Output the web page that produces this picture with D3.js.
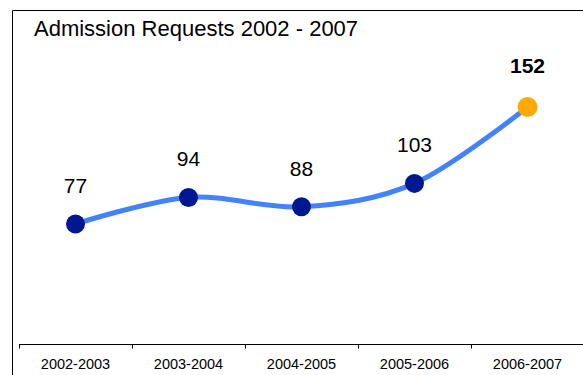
<!DOCTYPE html>
<html>
<head>
<meta charset="utf-8">
<script src="https://cdn.jsdelivr.net/npm/d3@7"></script>
<style>
  html, body { margin: 0; padding: 0; background: #fff; }
  svg { display: block; font-family: Arial, "Liberation Sans", sans-serif; }
</style>
</head>
<body>
<svg id="chart" width="583" height="375"></svg>
<script>
// Admission requests per academic year
const categories = ["2002-2003", "2003-2004", "2004-2005", "2005-2006", "2006-2007"];
const requests = [77, 94, 88, 103, 152];
const chartTitle = "Admission Requests 2002 - 2007";

const svg = d3.select("#chart");
const W = 583, H = 375;

// outer frame (right and bottom edges fall outside the view)
svg.append("path")
  .attr("d", "M12.5," + (H + 2) + "V10.5H" + (W + 2))
  .attr("fill", "none")
  .attr("stroke", "#000")
  .attr("stroke-width", 1);

svg.append("text")
  .attr("x", 34)
  .attr("y", 36)
  .attr("font-size", 22)
  .attr("fill", "#000")
  .text(chartTitle);

const x = d3.scaleBand().domain(categories).range([19, 584]).padding(0);
const y = d3.scaleLinear().domain([0, 160]).range([344, 94.5]);

// category axis with ticks between the categories
const axisY = 344.5;
const g = svg.append("g");
g.append("line")
  .attr("x1", x.range()[0]).attr("x2", x.range()[1])
  .attr("y1", axisY).attr("y2", axisY)
  .attr("stroke", "#000").attr("stroke-width", 1);
const boundaries = categories.map(c => x(c)).concat([x.range()[1]]);
g.selectAll("line.tick").data(boundaries).join("line")
  .attr("class", "tick")
  .attr("x1", d => Math.round(d) + 0.5).attr("x2", d => Math.round(d) + 0.5)
  .attr("y1", axisY).attr("y2", axisY + 4)
  .attr("stroke", "#000");
g.selectAll("text.cat").data(categories).join("text")
  .attr("class", "cat")
  .attr("x", d => x(d) + x.bandwidth() / 2)
  .attr("y", 369)
  .attr("text-anchor", "middle")
  .attr("font-size", 14.5)
  .attr("fill", "#000")
  .text(d => d);

const pts = categories.map((c, i) => ({ c, v: requests[i], last: i === categories.length - 1 }));
const cx = d => x(d.c) + x.bandwidth() / 2;

// smoothed trend line
const line = d3.line()
  .x(cx)
  .y(d => y(d.v))
  .curve(d3.curveCatmullRom.alpha(0));
svg.append("path")
  .datum(pts)
  .attr("d", line)
  .attr("fill", "none")
  .attr("stroke", "#4382FF")
  .attr("stroke-width", 5)
  .attr("stroke-linejoin", "round");

svg.selectAll("circle.pt").data(pts).join("circle")
  .attr("class", "pt")
  .attr("cx", cx)
  .attr("cy", d => y(d.v))
  .attr("r", d => d.last ? 10 : 9.5)
  .attr("fill", d => d.last ? "#FFAA00" : "#00188F");

svg.selectAll("text.val").data(pts).join("text")
  .attr("class", "val")
  .attr("x", cx)
  .attr("y", d => y(d.v) - (d.last ? 34 : 31))
  .attr("text-anchor", "middle")
  .attr("font-size", 21)
  .attr("font-weight", d => d.last ? "bold" : "normal")
  .attr("fill", "#000")
  .text(d => d.v);
</script>
</body>
</html>
